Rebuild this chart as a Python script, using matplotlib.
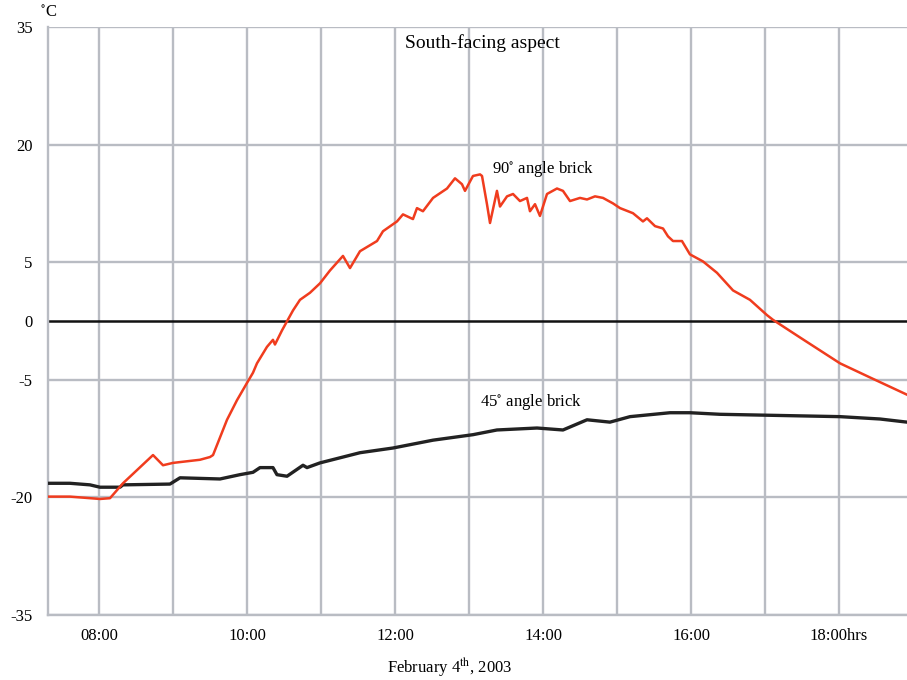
import numpy as np
import matplotlib
matplotlib.use("Agg")
import matplotlib.pyplot as plt

plt.rcParams['font.family'] = ['Liberation Serif', 'DejaVu Serif']
plt.rcParams['mathtext.fontset'] = 'stix'

# ---- data (hours of day, temperature in deg C) ----
red_hours = [7.311, 7.608, 8.014, 8.149, 8.324, 8.730, 8.865, 9.0, 9.365, 9.5,
             9.541, 9.730, 9.865, 10.0, 10.081, 10.135, 10.270, 10.351, 10.378, 10.473,
             10.622, 10.716, 10.851, 10.986, 11.122, 11.297, 11.392, 11.527, 11.757, 11.838,
             12.027, 12.108, 12.243, 12.297, 12.378, 12.514, 12.703, 12.811, 12.905, 12.946,
             13.054, 13.149, 13.176, 13.243, 13.284, 13.378, 13.419, 13.514, 13.595, 13.689,
             13.784, 13.824, 13.892, 13.959, 14.054, 14.189, 14.270, 14.365, 14.500, 14.595,
             14.703, 14.811, 14.946, 15.041, 15.216, 15.351, 15.405, 15.514, 15.622, 15.689,
             15.757, 15.878, 15.986, 16.162, 16.351, 16.568, 16.797, 17.027, 17.108, 17.473,
             18.014, 18.419, 18.919]
red_temps = [-19.9, -19.9, -20.2, -20.1, -18.2, -14.6, -15.9, -15.6, -15.2, -14.85,
             -14.6, -10.1, -7.6, -5.4, -4.4, -3.6, -2.2, -1.6, -2.0, -0.8,
             0.9, 1.8, 2.4, 3.2, 4.3, 5.8, 4.5, 6.4, 7.7, 8.95,
             10.2, 11.1, 10.5, 11.9, 11.5, 13.2, 14.4, 15.7, 14.95, 14.1,
             16.0, 16.2, 16.0, 12.4, 10.0, 14.1, 12.1, 13.4, 13.7, 12.8,
             13.2, 11.5, 12.4, 10.9, 13.7, 14.4, 14.1, 12.8, 13.2, 13.0,
             13.4, 13.2, 12.5, 11.9, 11.25, 10.2, 10.6, 9.6, 9.3, 8.3,
             7.7, 7.7, 6.0, 5.1, 4.1, 2.6, 1.8, 0.5, 0.1, -1.4,
             -3.6, -4.8, -6.9]

black_hours = [7.311, 7.608, 7.878, 8.014, 8.284, 8.324, 8.959, 9.095, 9.635, 9.905,
               10.081, 10.176, 10.351, 10.405, 10.541, 10.757, 10.811, 10.986, 11.527, 11.973,
               12.514, 13.054, 13.378, 13.919, 14.270, 14.595, 14.905, 15.176, 15.716, 15.986,
               16.392, 16.932, 17.473, 18.014, 18.554, 18.919]
black_temps = [-18.2, -18.2, -18.4, -18.7, -18.7, -18.4, -18.3, -17.5, -17.65, -17.1,
               -16.8, -16.2, -16.2, -17.1, -17.3, -15.9, -16.2, -15.6, -14.3, -13.7,
               -12.7, -12.0, -11.4, -11.15, -11.4, -10.1, -10.4, -9.7, -9.2, -9.2,
               -9.4, -9.5, -9.6, -9.7, -10.0, -10.4]

y_ticks = [-35, -20, -5, 0, 5, 20, 35]
x_ticks = [8, 10, 12, 14, 16, 18]
x_tick_labels = ["08:00", "10:00", "12:00", "14:00", "16:00", "18:00hrs"]
grid_hours = [8, 9, 10, 11, 12, 13, 14, 15, 16, 17, 18]

# piecewise scale: each labelled tick is evenly spaced on the original chart
knot_t = np.array(y_ticks, dtype=float)
knot_p = np.array([0, 1, 2, 2.5, 3, 4, 5], dtype=float)
fwd = lambda t: np.interp(t, knot_t, knot_p)
inv = lambda p: np.interp(p, knot_p, knot_t)

fig = plt.figure(figsize=(9.07, 6.8), dpi=100)
ax = fig.add_axes([48/907, 1-615/680, 1-48/907, (615-27)/680])
ax.set_yscale('function', functions=(fwd, inv))
ax.set_ylim(-35, 35)
ax.set_xlim(7.311, 18.919)

gcol = '#b9bcc3'
for h in grid_hours:
    ax.axvline(h, color=gcol, lw=1.7, zorder=1)
for t in [-35, -20, -5, 5, 20, 35]:
    ax.axhline(t, color=gcol, lw=1.7, zorder=1)
ax.axhline(0, color='#111111', lw=1.8, zorder=2)

ax.plot(black_hours, black_temps, color='#222222', lw=2.4, zorder=3)
ax.plot(red_hours, red_temps, color='#f03c1e', lw=1.8, zorder=4)

for s in ['top', 'right']:
    ax.spines[s].set_visible(False)
ax.spines['left'].set_color(gcol)
ax.spines['left'].set_linewidth(1.7)
ax.spines['bottom'].set_color(gcol)
ax.spines['bottom'].set_linewidth(1.7)

ax.set_yticks(y_ticks)
ax.set_yticklabels([str(v) for v in y_ticks], fontsize=12)
ax.set_xticks(x_ticks)
ax.set_xticklabels(x_tick_labels, fontsize=12)
ax.tick_params(axis='y', length=0, pad=11)
ax.tick_params(axis='x', length=0, pad=9)
ax.minorticks_off()

ax.text(0.506, 0.973, "South-facing aspect", transform=ax.transAxes,
        ha='center', va='center', fontsize=14)
ax.text(14.0, 16.9, r"90$^{\circ}$ angle brick", ha='center', va='center', fontsize=12)
ax.text(13.84, -7.8, r"45$^{\circ}$ angle brick", ha='center', va='center', fontsize=12)

fig.text(40/907, 1-13/680, r"$^{\circ}$C", ha='left', va='center', fontsize=12)
fig.text(450/907, 1-667/680, r"February 4$^{\rm th}$, 2003", ha='center', va='center', fontsize=12)

fig.savefig("out.png", dpi=100)
